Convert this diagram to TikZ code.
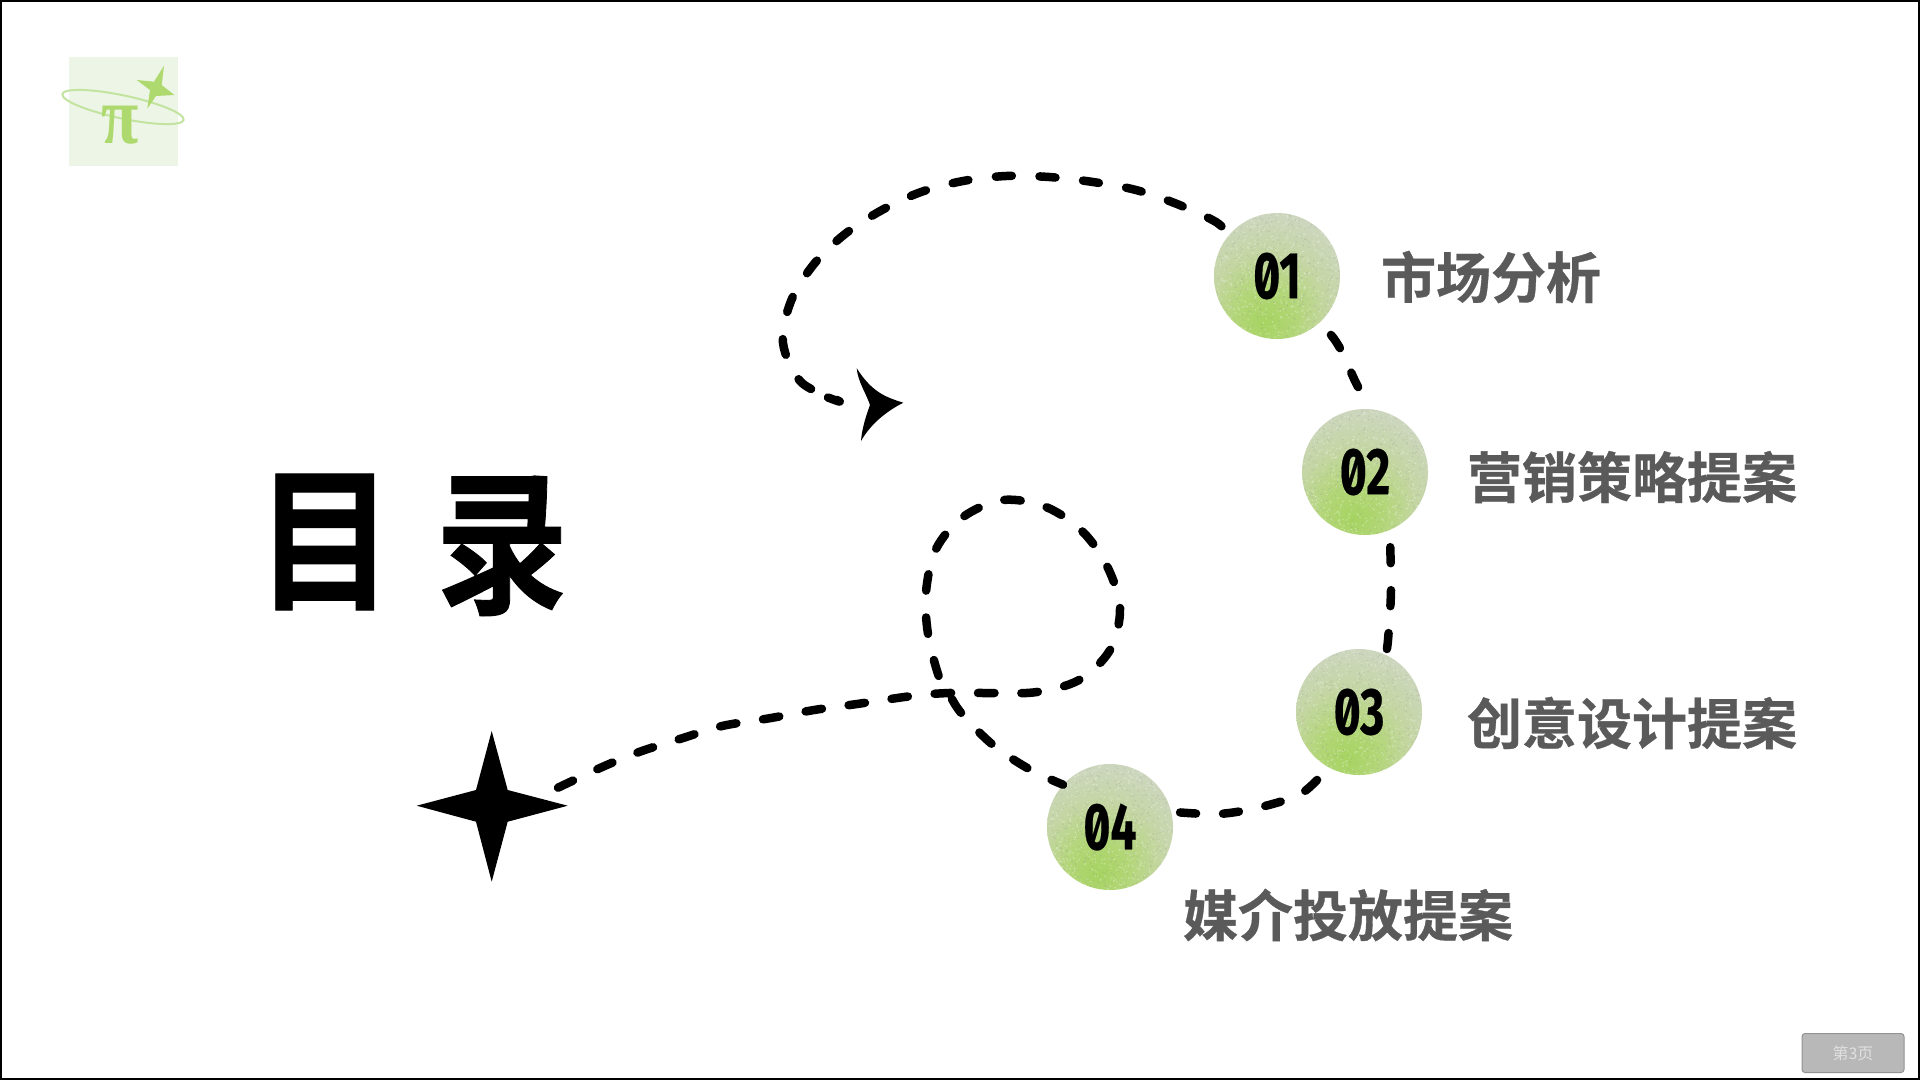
\documentclass[tikz,border=0pt]{standalone}
\usepackage{fontspec}
\usetikzlibrary{calc}
\newfontfamily\cjkfont{Noto Sans CJK SC}
\newfontfamily\cjkheavy{Noto Sans CJK SC Bold}[FakeBold=0.6]
\newfontfamily\numfont{Fira Sans Bold}[Numbers={SlashedZero,Lining},FakeBold=0.4]
\newfontfamily\pifont{Liberation Serif Bold}
\definecolor{labelgray}{HTML}{5A5A5A}
\definecolor{logogreen}{HTML}{AED96F}
\definecolor{logoline}{HTML}{C3E3A0}
\definecolor{logobg}{HTML}{EDF5E6}
\pgfdeclareradialshading{ballshade}{\pgfpoint{-5bp}{-19bp}}{%
  rgb(0bp)=(0.65,0.83,0.38);
  rgb(12bp)=(0.70,0.84,0.47);
  rgb(24bp)=(0.77,0.84,0.64);
  rgb(36bp)=(0.80,0.84,0.74);
  rgb(55bp)=(0.82,0.83,0.78);
  rgb(100bp)=(0.82,0.83,0.78)}
\tikzset{
  x=1pt,y=-1pt,
  ball/.style={circle,minimum size=126pt,inner sep=0pt,shading=ballshade},
  ballnumber/.style={inner sep=0pt,font=\numfont\fontsize{66}{66}\selectfont},
  menulabel/.style={font=\cjkheavy\fontsize{55}{55}\selectfont,text=labelgray,inner sep=0pt},
  titleglyph/.style={font=\cjkheavy\fontsize{156}{156}\selectfont,text=black,inner sep=0pt},
  route/.style={draw=black,line width=8.5pt,line cap=round,line join=round,dash pattern=on 16pt off 27pt},
}
\newcommand{\ballnum}[1]{\scalebox{0.7}[1]{#1}}
\newcommand{\grainball}[1]{%
  \begin{scope}
    \clip (#1) circle (63);
    \fill[white,opacity=.3] foreach \i in {1,...,600}{ (#1) ++(rand*63,rand*63) rectangle ++(1.3,1.3) };
    \fill[black!45,opacity=.2] foreach \i in {1,...,450}{ (#1) ++(rand*63,rand*63) rectangle ++(1.3,1.3) };
  \end{scope}}
\begin{document}
\begin{tikzpicture}
\useasboundingbox (0,0) rectangle (1920,1080);
\fill[white] (0,0) rectangle (1920,1080);
\draw[black,line width=2pt] (1,1) rectangle (1919,1079);

% logo
\fill[logobg] (69,57) rectangle (178,166);
\draw[logoline,line width=2pt,rotate around={-12:(123,107)}] (123,107) ellipse (62 and 11.5);
\node[inner sep=0pt,text=logogreen,yscale=1.2,font=\pifont\fontsize{68}{68}\selectfont] (logopi) at (120,125) {π};
\fill[logogreen] (164,65.7) -- (161.7,85) -- (174.3,95) -- (156,96) -- (147.3,108.7) -- (150,90) -- (136.7,80) -- (154,81.7) -- cycle;

% title
\node[titleglyph,xscale=0.88] (titlea) at (325,542) {目};
\node[titleglyph,xscale=0.85] (titleb) at (502,546) {录};

% markers
\coordinate (tailA) at (828,397.5);
\fill[black] (856.7,368.3) .. controls (872,392) and (885,397) .. (903.3,402.7)
  .. controls (885,412) and (870,425) .. (861,441)
  .. controls (862,428) and (866,416) .. (870,405)
  .. controls (866,393) and (858,382) .. cycle;
\coordinate (tailS) at (549,792);
\fill[black] (491.7,731) -- (507.7,790) -- (567.7,805.7) -- (507.7,821.7) -- (491.7,881.7) -- (476,821.7) -- (416.7,805.7) -- (476,790) -- cycle;

% balls
\pgfmathsetseed{7}
\node[ball] (c1) at (1277,276) {};
\node[ball] (c2) at (1365,472) {};
\node[ball] (c3) at (1359,712) {};
\node[ball] (c4) at (1110,827) {};
\grainball{c1}\grainball{c2}\grainball{c3}\grainball{c4}
\node[ballnumber] (n1) at (c1) {\ballnum{01}};
\node[ballnumber] (n2) at (c2) {\ballnum{02}};
\node[ballnumber] (n3) at (c3) {\ballnum{03}};
\node[ballnumber] (n4) at (c4) {\ballnum{04}};

% connectors
\draw[route,dash pattern=on 16pt off 27.7pt] plot[smooth,tension=0.55] coordinates {(tailA) (839,401) (801,382) (783,343) (791,301) (814,264) (845,234) (882,210) (921,192) (963,181) (1006,176) (1049,177) (1093,182) (1136,190) (1177,204) (1216,222) (c1.140)};
\draw[route,dash phase=26pt] plot[smooth,tension=0.55] coordinates {(c1.-50) (1331,335) (1342,352) (1356,383) (c2.85)};
\draw[route,dash phase=26pt] plot[smooth,tension=0.55] coordinates {(c2.-67) (1391,590) (1388,640) (c3.65)};
\draw[route,dash phase=26pt] plot[smooth,tension=0.55] coordinates {(c3.-119) (1302,793) (1261,807) (1218,814) (c4.14)};
\draw[route,dash pattern=on 16.5pt off 26.9pt,dash phase=4pt] plot[smooth,tension=0.55] coordinates {(c4.138) (1029,769) (993,745) (962,714) (949,694) (939,677) (928,634) (926,592) (936,549) (963,517) (1003,500) (1046,507) (1082,531) (1107,566) (1120,608) (1110,650) (1079,680) (1037,692) (995,693) (949,693) (912,696) (857,704) (814,710) (771,718) (722,726) (683,738) (639,752) (600,768) (tailS)};

% labels
\node[menulabel] (l1) at (1491,277) {市场分析};
\node[menulabel] (l2) at (1632,477) {营销策略提案};
\node[menulabel] (l3) at (1632,723) {创意设计提案};
\node[menulabel] (l4) at (1348,915) {媒介投放提案};

% page badge
\node[draw=gray!85,fill=black!28,rounded corners=3pt,line width=1pt,minimum width=102pt,minimum height=39pt,inner sep=0pt,text=black!12,font=\cjkfont\fontsize{16}{16}\selectfont] (badge) at (1853,1053) {第3页};
\end{tikzpicture}
\end{document}
